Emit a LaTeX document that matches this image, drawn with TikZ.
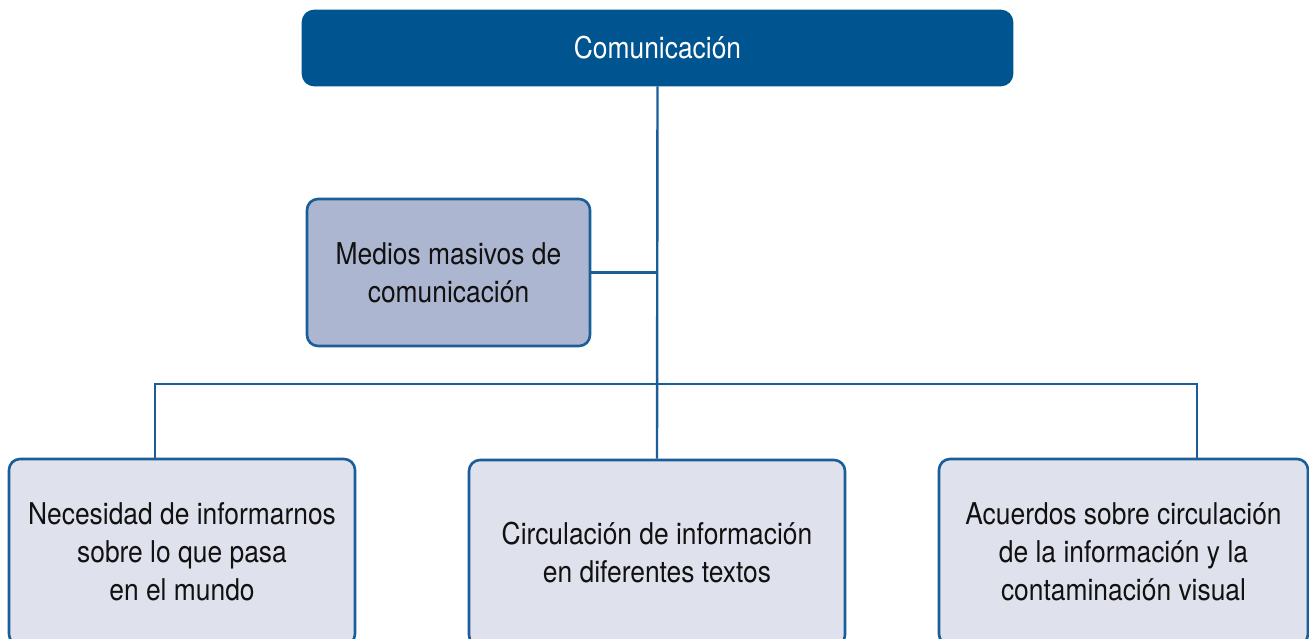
\documentclass[tikz,border=0pt]{standalone}
\usepackage{fontspec}
\setmainfont{TeX Gyre Heros}[FakeStretch=0.88]
\definecolor{topblue}{HTML}{00548F}
\definecolor{edgeblue}{HTML}{1A5E99}
\definecolor{lightfill}{HTML}{DFE2EC}
\definecolor{midfill}{HTML}{ADB6D0}
\definecolor{txt}{HTML}{111111}
\begin{document}
\begin{tikzpicture}[x=1pt,y=-1pt,
  box/.style={draw=edgeblue,line width=2.6pt,rounded corners=11pt,align=center,
    text=txt,font=\fontsize{30}{38}\selectfont,inner sep=0pt},
  link/.style={draw=edgeblue,line width=2.4pt}]
\useasboundingbox (0,0) rectangle (1309,638);
\clip (0,0) rectangle (1309,638);
\node[box,fill=topblue,draw=topblue,text=white,minimum width=709pt,minimum height=74pt] (top) at (657.5,48) {Comunicación};
\node[box,fill=midfill,minimum width=283pt,minimum height=147pt] (medios) at (448.5,272.5) {Medios masivos de\\comunicación};
\node[box,fill=lightfill,minimum width=346pt,minimum height=186pt] (left) at (182,552) {Necesidad de informarnos\\sobre lo que pasa\\en el mundo};
\node[box,fill=lightfill,minimum width=376pt,minimum height=186pt] (mid) at (657,553) {Circulación de información\\en diferentes textos};
\node[box,fill=lightfill,minimum width=369pt,minimum height=186pt] (right) at (1123.5,552) {Acuerdos sobre circulación\\de la información y la\\contaminación visual};
\coordinate (hl) at (155,384);
\coordinate (hr) at (1197,384);
\draw[link] (top.south) -- (mid.north);
\draw[link] (medios.east) -- (medios.east -| top.south);
\draw[link] (hl |- left.north) -- (hl) -- (hr) -- (hr |- right.north);
\end{tikzpicture}
\end{document}
